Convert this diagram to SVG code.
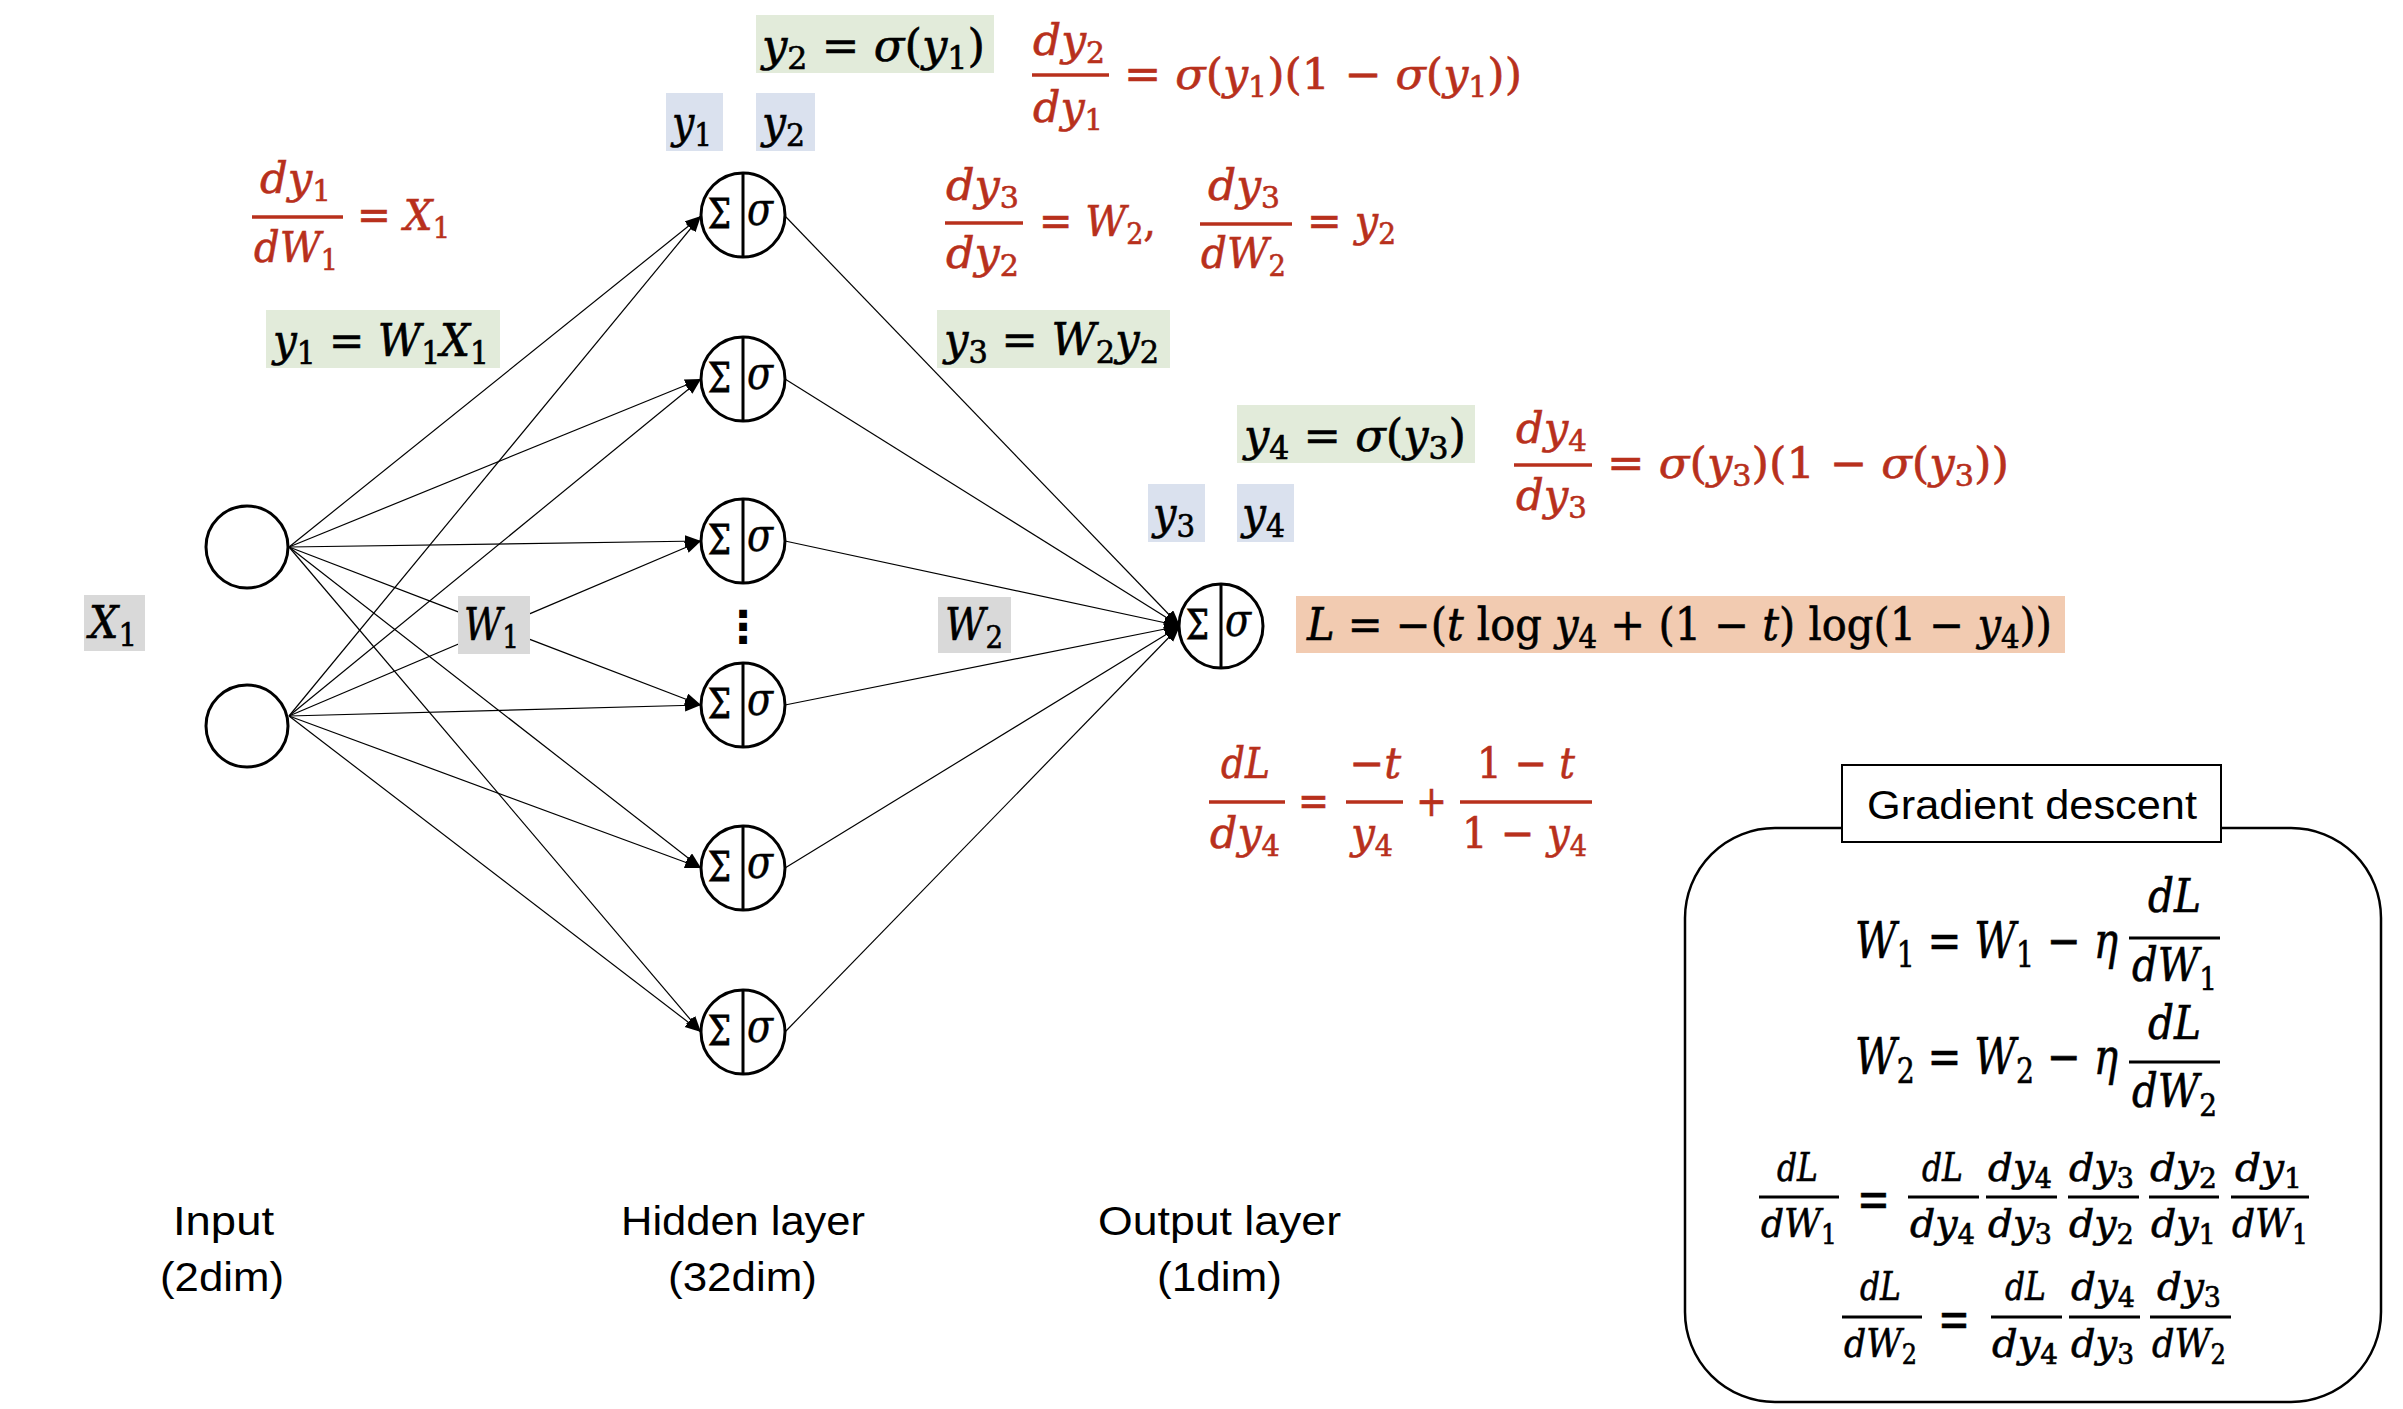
<svg xmlns="http://www.w3.org/2000/svg" width="2403" height="1409" viewBox="0 0 2403 1409">
<style>
.m{font-family:"DejaVu Serif","Liberation Serif",serif;font-style:italic;stroke:#000;stroke-width:0.6}
.u{font-style:normal}
.red{fill:#B8301C;stroke:#B8301C}
.bar{stroke:#B8301C;stroke-width:3.5}
.kbar{stroke:#000;stroke-width:3}
.g{fill:#E2EBDA}
.b{fill:#DAE1EE}
.gr{fill:#D9D9D9}
.o{fill:#F2CBB1}
.node{fill:#fff;stroke:#000;stroke-width:3}
.div{stroke:#000;stroke-width:3}
.edge{stroke:#000;stroke-width:1.2;fill:none;marker-end:url(#ah)}
.lab{font-family:"Liberation Sans","Open Sans",sans-serif;font-size:40px;fill:#000}
.sg{font-family:"DejaVu Serif","Liberation Serif",serif;font-size:41px;stroke:#000;stroke-width:0.8}
.sm{font-family:"DejaVu Serif","Liberation Serif",serif;font-size:46px;font-style:italic;stroke:#000;stroke-width:0.5}
</style>
<defs>
<marker id="ah" markerUnits="userSpaceOnUse" markerWidth="18" markerHeight="14" refX="16" refY="6" orient="auto">
<path d="M0,0 L16,6 L0,12 z" fill="#000"/>
</marker>
</defs>
<rect width="2403" height="1409" fill="#fff"/>

<g id="connectors">
<line class="edge" x1="289" y1="547" x2="701" y2="216"/>
<line class="edge" x1="289" y1="547" x2="701" y2="379"/>
<line class="edge" x1="289" y1="547" x2="701" y2="541"/>
<line class="edge" x1="289" y1="547" x2="701" y2="705"/>
<line class="edge" x1="289" y1="547" x2="701" y2="868"/>
<line class="edge" x1="289" y1="547" x2="701" y2="1032"/>
<line class="edge" x1="289" y1="716" x2="701" y2="216"/>
<line class="edge" x1="289" y1="716" x2="701" y2="379"/>
<line class="edge" x1="289" y1="716" x2="701" y2="541"/>
<line class="edge" x1="289" y1="716" x2="701" y2="705"/>
<line class="edge" x1="289" y1="716" x2="701" y2="868"/>
<line class="edge" x1="289" y1="716" x2="701" y2="1032"/>
<line class="edge" x1="785" y1="216" x2="1180" y2="626"/>
<line class="edge" x1="785" y1="379" x2="1180" y2="626"/>
<line class="edge" x1="785" y1="541" x2="1180" y2="626"/>
<line class="edge" x1="785" y1="705" x2="1180" y2="626"/>
<line class="edge" x1="785" y1="868" x2="1180" y2="626"/>
<line class="edge" x1="785" y1="1032" x2="1180" y2="626"/>
</g>

<g id="input1"><circle class="node" cx="247" cy="547" r="41"/></g>
<g id="input2"><circle class="node" cx="247" cy="726" r="41"/></g>

<g id="hidden1"><circle class="node" cx="743" cy="215" r="42"/><line class="div" x1="743" y1="173" x2="743" y2="257"/><text class="sg" x="708" y="228" textLength="23" lengthAdjust="spacingAndGlyphs">Σ</text><text class="sm" x="747" y="225" textLength="26" lengthAdjust="spacingAndGlyphs">σ</text></g>
<g id="hidden2"><circle class="node" cx="743" cy="379" r="42"/><line class="div" x1="743" y1="337" x2="743" y2="421"/><text class="sg" x="708" y="392" textLength="23" lengthAdjust="spacingAndGlyphs">Σ</text><text class="sm" x="747" y="389" textLength="26" lengthAdjust="spacingAndGlyphs">σ</text></g>
<g id="hidden3"><circle class="node" cx="743" cy="541" r="42"/><line class="div" x1="743" y1="499" x2="743" y2="583"/><text class="sg" x="708" y="554" textLength="23" lengthAdjust="spacingAndGlyphs">Σ</text><text class="sm" x="747" y="551" textLength="26" lengthAdjust="spacingAndGlyphs">σ</text></g>
<g id="hidden4"><circle class="node" cx="743" cy="705" r="42"/><line class="div" x1="743" y1="663" x2="743" y2="747"/><text class="sg" x="708" y="718" textLength="23" lengthAdjust="spacingAndGlyphs">Σ</text><text class="sm" x="747" y="715" textLength="26" lengthAdjust="spacingAndGlyphs">σ</text></g>
<g id="hidden5"><circle class="node" cx="743" cy="868" r="42"/><line class="div" x1="743" y1="826" x2="743" y2="910"/><text class="sg" x="708" y="881" textLength="23" lengthAdjust="spacingAndGlyphs">Σ</text><text class="sm" x="747" y="878" textLength="26" lengthAdjust="spacingAndGlyphs">σ</text></g>
<g id="hidden6"><circle class="node" cx="743" cy="1032" r="42"/><line class="div" x1="743" y1="990" x2="743" y2="1074"/><text class="sg" x="708" y="1045" textLength="23" lengthAdjust="spacingAndGlyphs">Σ</text><text class="sm" x="747" y="1042" textLength="26" lengthAdjust="spacingAndGlyphs">σ</text></g>
<g id="dots"><text x="743" y="642" font-family="DejaVu Sans, sans-serif" font-size="44" font-weight="bold" text-anchor="middle">⋮</text></g>
<g id="output"><circle class="node" cx="1221" cy="626" r="42"/><line class="div" x1="1221" y1="584" x2="1221" y2="668"/><text class="sg" x="1186" y="639" textLength="23" lengthAdjust="spacingAndGlyphs">Σ</text><text class="sm" x="1225" y="636" textLength="26" lengthAdjust="spacingAndGlyphs">σ</text></g>

<g id="labels">
<rect class="gr" x="84" y="595" width="61" height="56"/>
<text class="m" x="89" y="638" font-size="44" textLength="48" lengthAdjust="spacingAndGlyphs">X<tspan class="u" font-size="31" dy="8">1</tspan></text>
<rect class="gr" x="458" y="596" width="72" height="58"/>
<text class="m" x="464" y="640" font-size="44" textLength="55" lengthAdjust="spacingAndGlyphs">W<tspan class="u" font-size="31" dy="8">1</tspan></text>
<rect class="gr" x="938" y="597" width="73" height="56"/>
<text class="m" x="945" y="640" font-size="44" textLength="58" lengthAdjust="spacingAndGlyphs">W<tspan class="u" font-size="31" dy="8">2</tspan></text>

<rect class="b" x="666" y="93" width="57" height="58"/>
<text class="m" x="672" y="138" font-size="44" textLength="40" lengthAdjust="spacingAndGlyphs">y<tspan class="u" font-size="31" dy="8">1</tspan></text>
<rect class="b" x="756" y="93" width="59" height="58"/>
<text class="m" x="762" y="138" font-size="44" textLength="43" lengthAdjust="spacingAndGlyphs">y<tspan class="u" font-size="31" dy="8">2</tspan></text>
<rect class="b" x="1148" y="484" width="57" height="58"/>
<text class="m" x="1153" y="529" font-size="44" textLength="42" lengthAdjust="spacingAndGlyphs">y<tspan class="u" font-size="31" dy="8">3</tspan></text>
<rect class="b" x="1237" y="484" width="57" height="58"/>
<text class="m" x="1242" y="529" font-size="44" textLength="43" lengthAdjust="spacingAndGlyphs">y<tspan class="u" font-size="31" dy="8">4</tspan></text>

<rect class="g" x="756" y="15" width="238" height="58"/>
<text class="m" x="762" y="61" font-size="44" textLength="223" lengthAdjust="spacingAndGlyphs">y<tspan class="u" font-size="31" dy="8">2</tspan><tspan class="u" dy="-8"> = </tspan>σ<tspan class="u">(</tspan>y<tspan class="u" font-size="31" dy="8">1</tspan><tspan class="u" dy="-8">)</tspan></text>
<rect class="g" x="266" y="310" width="234" height="58"/>
<text class="m" x="273" y="356" font-size="44" textLength="216" lengthAdjust="spacingAndGlyphs">y<tspan class="u" font-size="31" dy="8">1</tspan><tspan class="u" dy="-8"> = </tspan>W<tspan class="u" font-size="31" dy="8">1</tspan><tspan dy="-8">X</tspan><tspan class="u" font-size="31" dy="8">1</tspan></text>
<rect class="g" x="937" y="310" width="233" height="58"/>
<text class="m" x="944" y="355" font-size="44" textLength="215" lengthAdjust="spacingAndGlyphs">y<tspan class="u" font-size="31" dy="8">3</tspan><tspan class="u" dy="-8"> = </tspan>W<tspan class="u" font-size="31" dy="8">2</tspan><tspan dy="-8">y</tspan><tspan class="u" font-size="31" dy="8">2</tspan></text>
<rect class="g" x="1237" y="405" width="238" height="58"/>
<text class="m" x="1244" y="451" font-size="44" textLength="222" lengthAdjust="spacingAndGlyphs">y<tspan class="u" font-size="31" dy="8">4</tspan><tspan class="u" dy="-8"> = </tspan>σ<tspan class="u">(</tspan>y<tspan class="u" font-size="31" dy="8">3</tspan><tspan class="u" dy="-8">)</tspan></text>

<rect class="o" x="1296" y="596" width="769" height="57"/>
<text class="m" x="1307" y="640" font-size="44" textLength="745" lengthAdjust="spacingAndGlyphs">L<tspan class="u"> = −(</tspan>t<tspan class="u"> log </tspan>y<tspan class="u" font-size="31" dy="8">4</tspan><tspan class="u" dy="-8"> + (1 − </tspan>t<tspan class="u">) log(1 − </tspan>y<tspan class="u" font-size="31" dy="8">4</tspan><tspan class="u" dy="-8">))</tspan></text>
</g>

<g id="formula-dy1dW1" class="m red" font-size="43">
<text x="260" y="193" textLength="71" lengthAdjust="spacingAndGlyphs">dy<tspan class="u" font-size="29" dy="8">1</tspan></text>
<line class="bar" x1="252" y1="217" x2="343" y2="217"/>
<text x="254" y="262" textLength="84" lengthAdjust="spacingAndGlyphs">dW<tspan class="u" font-size="29" dy="8">1</tspan></text>
<text x="357" y="230" textLength="93" lengthAdjust="spacingAndGlyphs"><tspan class="u">= </tspan>X<tspan class="u" font-size="29" dy="8">1</tspan></text>
</g>

<g id="formula-dy2dy1" class="m red" font-size="43">
<text x="1033" y="55" textLength="72" lengthAdjust="spacingAndGlyphs">dy<tspan class="u" font-size="29" dy="8">2</tspan></text>
<line class="bar" x1="1032" y1="75" x2="1109" y2="75"/>
<text x="1033" y="122" textLength="70" lengthAdjust="spacingAndGlyphs">dy<tspan class="u" font-size="29" dy="8">1</tspan></text>
<text x="1124" y="89" textLength="398" lengthAdjust="spacingAndGlyphs"><tspan class="u">= </tspan>σ<tspan class="u">(</tspan>y<tspan class="u" font-size="29" dy="8">1</tspan><tspan class="u" dy="-8">)(1 − </tspan>σ<tspan class="u">(</tspan>y<tspan class="u" font-size="29" dy="8">1</tspan><tspan class="u" dy="-8">))</tspan></text>
</g>

<g id="formula-dy3" class="m red" font-size="43">
<text x="946" y="200" textLength="73" lengthAdjust="spacingAndGlyphs">dy<tspan class="u" font-size="29" dy="8">3</tspan></text>
<line class="bar" x1="945" y1="223" x2="1023" y2="223"/>
<text x="946" y="268" textLength="73" lengthAdjust="spacingAndGlyphs">dy<tspan class="u" font-size="29" dy="8">2</tspan></text>
<text x="1039" y="236" textLength="117" lengthAdjust="spacingAndGlyphs"><tspan class="u">= </tspan>W<tspan class="u" font-size="29" dy="8">2</tspan><tspan class="u" dy="-8">,</tspan></text>
<text x="1208" y="200" textLength="72" lengthAdjust="spacingAndGlyphs">dy<tspan class="u" font-size="29" dy="8">3</tspan></text>
<line class="bar" x1="1200" y1="224" x2="1292" y2="224"/>
<text x="1201" y="268" textLength="85" lengthAdjust="spacingAndGlyphs">dW<tspan class="u" font-size="29" dy="8">2</tspan></text>
<text x="1307" y="236" textLength="89" lengthAdjust="spacingAndGlyphs"><tspan class="u">= </tspan>y<tspan class="u" font-size="29" dy="8">2</tspan></text>
</g>

<g id="formula-dy4dy3" class="m red" font-size="43">
<text x="1516" y="443" textLength="71" lengthAdjust="spacingAndGlyphs">dy<tspan class="u" font-size="29" dy="8">4</tspan></text>
<line class="bar" x1="1514" y1="465" x2="1592" y2="465"/>
<text x="1516" y="510" textLength="71" lengthAdjust="spacingAndGlyphs">dy<tspan class="u" font-size="29" dy="8">3</tspan></text>
<text x="1607" y="478" textLength="402" lengthAdjust="spacingAndGlyphs"><tspan class="u">= </tspan>σ<tspan class="u">(</tspan>y<tspan class="u" font-size="29" dy="8">3</tspan><tspan class="u" dy="-8">)(1 − </tspan>σ<tspan class="u">(</tspan>y<tspan class="u" font-size="29" dy="8">3</tspan><tspan class="u" dy="-8">))</tspan></text>
</g>

<g id="formula-dLdy4" class="m red" font-size="43">
<text x="1221" y="778" textLength="49" lengthAdjust="spacingAndGlyphs">dL</text>
<line class="bar" x1="1209" y1="802" x2="1285" y2="802"/>
<text x="1210" y="848" textLength="70" lengthAdjust="spacingAndGlyphs">dy<tspan class="u" font-size="29" dy="8">4</tspan></text>
<text class="u" x="1298" y="816" textLength="31" lengthAdjust="spacingAndGlyphs">=</text>
<text x="1349" y="778" textLength="52" lengthAdjust="spacingAndGlyphs"><tspan class="u">−</tspan>t</text>
<line class="bar" x1="1346" y1="802" x2="1403" y2="802"/>
<text x="1351" y="848" textLength="42" lengthAdjust="spacingAndGlyphs">y<tspan class="u" font-size="29" dy="8">4</tspan></text>
<text class="u" x="1416" y="816" textLength="31" lengthAdjust="spacingAndGlyphs">+</text>
<text x="1477" y="778" textLength="98" lengthAdjust="spacingAndGlyphs"><tspan class="u">1 − </tspan>t</text>
<line class="bar" x1="1460" y1="802" x2="1592" y2="802"/>
<text x="1462" y="848" textLength="125" lengthAdjust="spacingAndGlyphs"><tspan class="u">1 − </tspan>y<tspan class="u" font-size="29" dy="8">4</tspan></text>
</g>

<g id="gradient-descent">
<rect x="1685" y="828" width="696" height="574" rx="90" ry="90" fill="#fff" stroke="#000" stroke-width="2.5"/>
<rect x="1842" y="765" width="379" height="77" fill="#fff" stroke="#000" stroke-width="2"/>
<text class="lab" x="1867" y="819" textLength="330" lengthAdjust="spacingAndGlyphs">Gradient descent</text>
<g class="m" font-size="50">
<text x="1855" y="958" textLength="263" lengthAdjust="spacingAndGlyphs">W<tspan class="u" font-size="35" dy="9">1</tspan><tspan class="u" dy="-9"> = </tspan>W<tspan class="u" font-size="35" dy="9">1</tspan><tspan class="u" dy="-9"> − </tspan>η</text>
<text x="2148" y="912" font-size="46" textLength="53" lengthAdjust="spacingAndGlyphs">dL</text>
<line class="kbar" x1="2129" y1="938" x2="2220" y2="938"/>
<text x="2132" y="981" font-size="46" textLength="85" lengthAdjust="spacingAndGlyphs">dW<tspan class="u" font-size="32" dy="9">1</tspan></text>
<text x="1855" y="1074" textLength="263" lengthAdjust="spacingAndGlyphs">W<tspan class="u" font-size="35" dy="9">2</tspan><tspan class="u" dy="-9"> = </tspan>W<tspan class="u" font-size="35" dy="9">2</tspan><tspan class="u" dy="-9"> − </tspan>η</text>
<text x="2148" y="1039" font-size="46" textLength="53" lengthAdjust="spacingAndGlyphs">dL</text>
<line class="kbar" x1="2129" y1="1062" x2="2220" y2="1062"/>
<text x="2132" y="1107" font-size="46" textLength="85" lengthAdjust="spacingAndGlyphs">dW<tspan class="u" font-size="32" dy="9">2</tspan></text>
</g>
<g class="m" font-size="39">
<text x="1777" y="1181" textLength="41" lengthAdjust="spacingAndGlyphs">dL</text>
<line class="kbar" x1="1759" y1="1197" x2="1839" y2="1197"/>
<text x="1761" y="1237" textLength="76" lengthAdjust="spacingAndGlyphs">dW<tspan class="u" font-size="27" dy="7">1</tspan></text>
<text class="u" x="1857" y="1217" font-size="52" textLength="33" lengthAdjust="spacingAndGlyphs">=</text>
<text x="1922" y="1181" textLength="41" lengthAdjust="spacingAndGlyphs">dL</text>
<line class="kbar" x1="1908" y1="1197" x2="1979" y2="1197"/>
<text x="1910" y="1237" textLength="65" lengthAdjust="spacingAndGlyphs">dy<tspan class="u" font-size="27" dy="7">4</tspan></text>
<text x="1988" y="1181" textLength="64" lengthAdjust="spacingAndGlyphs">dy<tspan class="u" font-size="27" dy="7">4</tspan></text>
<line class="kbar" x1="1986" y1="1197" x2="2057" y2="1197"/>
<text x="1988" y="1237" textLength="64" lengthAdjust="spacingAndGlyphs">dy<tspan class="u" font-size="27" dy="7">3</tspan></text>
<text x="2069" y="1181" textLength="65" lengthAdjust="spacingAndGlyphs">dy<tspan class="u" font-size="27" dy="7">3</tspan></text>
<line class="kbar" x1="2068" y1="1197" x2="2139" y2="1197"/>
<text x="2069" y="1237" textLength="65" lengthAdjust="spacingAndGlyphs">dy<tspan class="u" font-size="27" dy="7">2</tspan></text>
<text x="2150" y="1181" textLength="67" lengthAdjust="spacingAndGlyphs">dy<tspan class="u" font-size="27" dy="7">2</tspan></text>
<line class="kbar" x1="2149" y1="1197" x2="2219" y2="1197"/>
<text x="2151" y="1237" textLength="65" lengthAdjust="spacingAndGlyphs">dy<tspan class="u" font-size="27" dy="7">1</tspan></text>
<text x="2235" y="1181" textLength="67" lengthAdjust="spacingAndGlyphs">dy<tspan class="u" font-size="27" dy="7">1</tspan></text>
<line class="kbar" x1="2231" y1="1197" x2="2309" y2="1197"/>
<text x="2232" y="1237" textLength="76" lengthAdjust="spacingAndGlyphs">dW<tspan class="u" font-size="27" dy="7">1</tspan></text>

<text x="1860" y="1300" textLength="41" lengthAdjust="spacingAndGlyphs">dL</text>
<line class="kbar" x1="1842" y1="1317" x2="1922" y2="1317"/>
<text x="1844" y="1357" textLength="73" lengthAdjust="spacingAndGlyphs">dW<tspan class="u" font-size="27" dy="7">2</tspan></text>
<text class="u" x="1938" y="1337" font-size="52" textLength="32" lengthAdjust="spacingAndGlyphs">=</text>
<text x="2005" y="1300" textLength="41" lengthAdjust="spacingAndGlyphs">dL</text>
<line class="kbar" x1="1991" y1="1317" x2="2062" y2="1317"/>
<text x="1992" y="1357" textLength="66" lengthAdjust="spacingAndGlyphs">dy<tspan class="u" font-size="27" dy="7">4</tspan></text>
<text x="2071" y="1300" textLength="64" lengthAdjust="spacingAndGlyphs">dy<tspan class="u" font-size="27" dy="7">4</tspan></text>
<line class="kbar" x1="2069" y1="1317" x2="2140" y2="1317"/>
<text x="2071" y="1357" textLength="63" lengthAdjust="spacingAndGlyphs">dy<tspan class="u" font-size="27" dy="7">3</tspan></text>
<text x="2157" y="1300" textLength="64" lengthAdjust="spacingAndGlyphs">dy<tspan class="u" font-size="27" dy="7">3</tspan></text>
<line class="kbar" x1="2150" y1="1317" x2="2231" y2="1317"/>
<text x="2152" y="1357" textLength="74" lengthAdjust="spacingAndGlyphs">dW<tspan class="u" font-size="27" dy="7">2</tspan></text>
</g>
</g>

<g id="layer-labels">
<text class="lab" x="173" y="1235" textLength="101" lengthAdjust="spacingAndGlyphs">Input</text>
<text class="lab" x="160" y="1291" textLength="124" lengthAdjust="spacingAndGlyphs">(2dim)</text>
<text class="lab" x="621" y="1235" textLength="244" lengthAdjust="spacingAndGlyphs">Hidden layer</text>
<text class="lab" x="668" y="1291" textLength="149" lengthAdjust="spacingAndGlyphs">(32dim)</text>
<text class="lab" x="1098" y="1235" textLength="243" lengthAdjust="spacingAndGlyphs">Output layer</text>
<text class="lab" x="1157" y="1291" textLength="125" lengthAdjust="spacingAndGlyphs">(1dim)</text>
</g>
</svg>
